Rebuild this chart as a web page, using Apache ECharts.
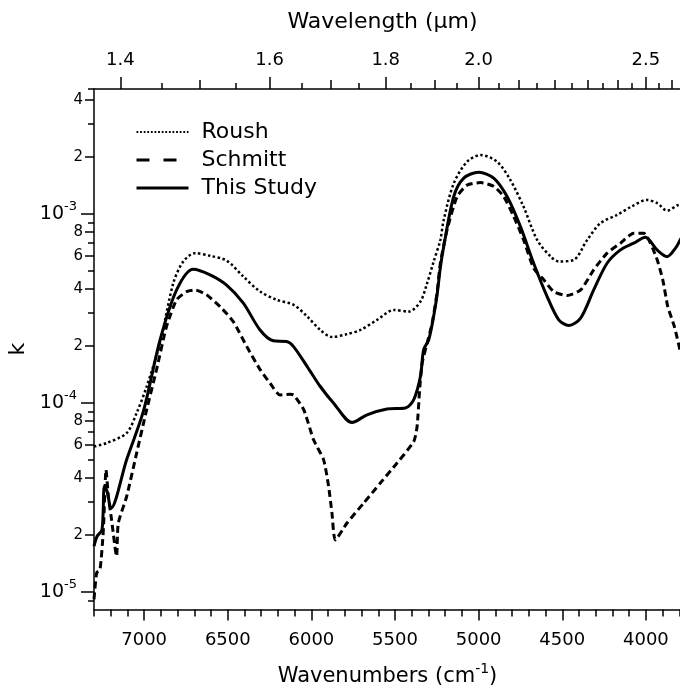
<!DOCTYPE html>
<html><head><meta charset="utf-8">
<script src="https://cdn.jsdelivr.net/npm/echarts@6/dist/echarts.min.js"></script>
<style>html,body{margin:0;padding:0;background:#fff}#c{width:680px;height:695px}</style>
</head><body><div id="c"></div>
<script>
// ---- data (wavenumber cm^-1, k) ----
const roushWn = [7300, 7225, 7105, 7045, 6985, 6905, 6826, 6766, 6696, 6606, 6507, 6407, 6307, 6208, 6106, 6026, 5947, 5877, 5787, 5707, 5607, 5508, 5418, 5348, 5308, 5269, 5229, 5209, 5149, 5069, 4989, 4890, 4810, 4731, 4650, 4569, 4521, 4431, 4351, 4272, 4172, 4089, 3993, 3933, 3873, 3813, 3791];
const roushK = [5.87e-5, 6.12e-5, 6.92e-5, 8.83e-5, 1.22e-4, 2.07e-4, 4.3e-4, 5.6e-4, 6.2e-4, 6.0e-4, 5.66e-4, 4.66e-4, 3.88e-4, 3.51e-4, 3.30e-4, 2.87e-4, 2.43e-4, 2.23e-4, 2.31e-4, 2.43e-4, 2.75e-4, 3.10e-4, 3.04e-4, 3.44e-4, 4.30e-4, 5.6e-4, 7.28e-4, 9.29e-4, 1.45e-3, 1.89e-3, 2.05e-3, 1.89e-3, 1.51e-3, 1.09e-3, 7.28e-4, 5.94e-4, 5.6e-4, 5.71e-4, 7.28e-4, 8.93e-4, 9.88e-4, 1.09e-3, 1.186e-3, 1.14e-3, 1.04e-3, 1.11e-3, 1.12e-3];

const schmittWn = [7300, 7284, 7264, 7244, 7228, 7214, 7195, 7165, 7155, 7105, 7045, 6985, 6926, 6866, 6806, 6746, 6696, 6627, 6546, 6467, 6387, 6307, 6247, 6188, 6128, 6106, 6046, 5987, 5927, 5897, 5877, 5857, 5787, 5688, 5588, 5488, 5388, 5368, 5353, 5338, 5308, 5278, 5249, 5229, 5189, 5129, 5069, 4989, 4910, 4850, 4790, 4731, 4671, 4611, 4551, 4471, 4390, 4312, 4232, 4152, 4073, 4013, 3939, 3899, 3869, 3830, 3791];
const schmittK = [9.1e-6, 1.26e-5, 1.31e-5, 2.13e-5, 4.42e-5, 3.19e-5, 2.41e-5, 1.54e-5, 2.3e-5, 3.19e-5, 5.42e-5, 9.2e-5, 1.50e-4, 2.54e-4, 3.51e-4, 3.88e-4, 3.96e-4, 3.73e-4, 3.23e-4, 2.69e-4, 1.99e-4, 1.50e-4, 1.27e-4, 1.10e-4, 1.11e-4, 1.10e-4, 9.2e-5, 6.37e-5, 4.99e-5, 3.6e-5, 2.6e-5, 1.88e-5, 2.31e-5, 2.94e-5, 3.76e-5, 4.8e-5, 6.24e-5, 7.5e-5, 1.17e-4, 1.62e-4, 2.07e-4, 2.64e-4, 3.8e-4, 5.48e-4, 8.23e-4, 1.236e-3, 1.42e-3, 1.465e-3, 1.40e-3, 1.236e-3, 9.68e-4, 7.28e-4, 5.16e-4, 4.48e-4, 3.88e-4, 3.70e-4, 3.96e-4, 5.06e-4, 6.2e-4, 7.0e-4, 7.9e-4, 7.9e-4, 5.94e-4, 4.48e-4, 3.23e-4, 2.54e-4, 1.82e-4];

const studyWn = [7300, 7282, 7252, 7238, 7222, 7198, 7105, 7005, 6905, 6806, 6706, 6606, 6507, 6407, 6307, 6228, 6148, 6108, 6026, 5947, 5867, 5757, 5667, 5548, 5438, 5388, 5348, 5329, 5299, 5269, 5249, 5229, 5209, 5149, 5089, 5000, 4910, 4830, 4750, 4671, 4591, 4521, 4461, 4390, 4312, 4232, 4152, 4073, 4003, 3933, 3873, 3823, 3791];
const studyK = [1.74e-5, 1.96e-5, 2.13e-5, 3.6e-5, 3.4e-5, 2.77e-5, 5.0e-5, 9.0e-5, 2.15e-4, 3.96e-4, 5.1e-4, 4.76e-4, 4.2e-4, 3.37e-4, 2.43e-4, 2.13e-4, 2.11e-4, 1.99e-4, 1.56e-4, 1.22e-4, 9.95e-5, 7.87e-5, 8.64e-5, 9.27e-5, 9.38e-5, 1.04e-4, 1.38e-4, 1.91e-4, 2.15e-4, 2.87e-4, 3.7e-4, 5.2e-4, 6.7e-4, 1.236e-3, 1.546e-3, 1.663e-3, 1.546e-3, 1.236e-3, 8.57e-4, 5.48e-4, 3.66e-4, 2.75e-4, 2.57e-4, 2.81e-4, 3.96e-4, 5.48e-4, 6.45e-4, 7.0e-4, 7.53e-4, 6.45e-4, 5.94e-4, 6.59e-4, 7.43e-4];

// ---- tick labels ----
const xMajorTicks = [7000, 6500, 6000, 5500, 5000, 4500, 4000];
const xMinorTicks = [7300, 7200, 7100, 7000, 6900, 6800, 6700, 6600, 6500, 6400, 6300, 6200, 6100, 6000, 5900, 5800, 5700, 5600, 5500, 5400, 5300, 5200, 5100, 5000, 4900, 4800, 4700, 4600, 4500, 4400, 4300, 4200, 4100, 4000, 3900, 3800];
const wlLabels = [1.4, 1.6, 1.8, 2.0, 2.5];
const wlMedium = [1.5, 1.7, 1.9, 2.1, 2.2, 2.3, 2.4, 2.6];
const wlShort = [1.45, 1.55, 1.65, 1.75, 1.85, 1.95, 2.05, 2.15, 2.25, 2.35, 2.45, 2.55];
const kDecades = [1e-5, 1e-4, 1e-3];
const kLabeled = [2e-5, 4e-5, 6e-5, 8e-5, 2e-4, 4e-4, 6e-4, 8e-4, 2e-3, 4e-3];
const kMinor = [9e-6, 3e-5, 5e-5, 7e-5, 9e-5, 3e-4, 5e-4, 7e-4, 9e-4, 3e-3];

const X_MIN = 3790, X_MAX = 7300;
const Y_MIN = 8.05e-6, Y_MAX = 4.585e-3;
const FONT = 'DejaVu Sans';

const zip = (a, b) => a.map((v, i) => [v, b[i]]);
const toWn = arr => arr.map(l => 10000 / l);

const chart = echarts.init(document.getElementById('c'), null, {renderer: 'canvas'});
const g = {left: 94, top: 89, width: 587, height: 520.5, containLabel: false, outerBoundsMode: 'none', show: false};
const AX = {color: '#000', width: 1.5};

function xAx(gridIndex, position, o) {
  return Object.assign({
    type: 'value', gridIndex, position, min: X_MIN, max: X_MAX, inverse: true,
    splitLine: {show: false}, axisLine: {show: false}, axisTick: {show: false}, axisLabel: {show: false}
  }, o);
}
function yAx(gridIndex, o) {
  return Object.assign({
    type: 'log', logBase: 10, gridIndex, position: 'left', min: Y_MIN, max: Y_MAX,
    splitLine: {show: false}, axisLine: {show: false}, axisTick: {show: false}, axisLabel: {show: false}
  }, o);
}

const hiddenSym = {opacity: 0, color: 'rgba(0,0,0,0)', borderWidth: 0};

const option = {
  animation: false,
  backgroundColor: '#fff',
  color: ['#000', '#000', '#000'],
  textStyle: {fontFamily: FONT, color: '#000'},
  grid: [Object.assign({}, g), Object.assign({}, g), Object.assign({}, g)],
  legend: {
    orient: 'vertical', left: 135, top: 121, padding: 0,
    itemWidth: 52, itemHeight: 16, itemGap: 6,
    itemStyle: hiddenSym,
    textStyle: {fontFamily: FONT, fontSize: 22, color: '#000', padding: [0, 0, 0, 8]},
    data: [
      {name: 'Roush', itemStyle: hiddenSym, lineStyle: {color: '#000', width: 2, type: [1.8, 1.8]}},
      {name: 'Schmitt', itemStyle: hiddenSym, lineStyle: {color: '#000', width: 3, type: [13, 14]}},
      {name: 'This Study', itemStyle: hiddenSym, lineStyle: {color: '#000', width: 3, type: 'solid'}}
    ]
  },
  xAxis: [
    xAx(0, 'bottom', {
      axisLine: {show: true, lineStyle: AX},
      axisTick: {show: true, length: 11, lineStyle: AX, customValues: xMajorTicks},
      axisLabel: {show: true, customValues: xMajorTicks, fontFamily: FONT, fontSize: 18, color: '#000', margin: 22,
        formatter: v => String(Math.round(v))},
      name: '{a|Wavenumbers (cm}{s|-1}{a|)}', nameLocation: 'middle', nameGap: 53,
      nameTextStyle: {rich: {
        a: {fontFamily: FONT, fontSize: 21, color: '#000'},
        s: {fontFamily: FONT, fontSize: 14, color: '#000', padding: [0, 0, 14, 0]}
      }}
    }),
    xAx(0, 'top', {
      axisLine: {show: true, lineStyle: AX},
      axisTick: {show: true, length: 12, lineStyle: AX, customValues: toWn(wlLabels)},
      axisLabel: {show: true, customValues: toWn(wlLabels), fontFamily: FONT, fontSize: 18, color: '#000', margin: 20,
        formatter: v => (10000 / v).toFixed(1)},
      name: 'Wavelength (μm)', nameLocation: 'middle', nameGap: 56,
      nameTextStyle: {fontFamily: FONT, fontSize: 22, color: '#000', padding: [0, 10, 0, 0]}
    }),
    xAx(1, 'bottom', {axisTick: {show: true, length: 7, lineStyle: AX, customValues: xMinorTicks}}),
    xAx(1, 'top', {axisTick: {show: true, length: 9, lineStyle: AX, customValues: toWn(wlMedium)}}),
    xAx(2, 'bottom', {show: false}),
    xAx(2, 'top', {axisTick: {show: true, length: 6, lineStyle: AX, customValues: toWn(wlShort)}})
  ],
  yAxis: [
    yAx(0, {
      axisLine: {show: true, lineStyle: AX},
      axisTick: {show: true, length: 13, lineStyle: AX, customValues: kDecades},
      axisLabel: {show: true, customValues: kDecades, margin: 17,
        formatter: v => '{b|10}{s|' + Math.round(Math.log10(v)) + '}',
        rich: {
          b: {fontFamily: FONT, fontSize: 19, color: '#000'},
          s: {fontFamily: FONT, fontSize: 13, color: '#000', padding: [0, 0, 14, 0]}
        }},
      name: 'k', nameLocation: 'middle', nameGap: 62, nameRotate: 90,
      nameTextStyle: {fontFamily: FONT, fontSize: 22, color: '#000'}
    }),
    yAx(1, {
      axisTick: {show: true, length: 9, lineStyle: AX, customValues: kLabeled},
      axisLabel: {show: true, customValues: kLabeled, margin: 11, fontFamily: FONT, fontSize: 15, color: '#000',
        formatter: v => String(Math.round(v / Math.pow(10, Math.floor(Math.log10(v) + 1e-9))))}
    }),
    yAx(2, {
      axisTick: {show: true, length: 6, lineStyle: AX, customValues: kMinor.concat([Y_MAX])}
    })
  ],
  series: [
    {type: 'line', name: 'Roush', xAxisIndex: 0, yAxisIndex: 0, data: zip(roushWn, roushK),
      symbol: 'none', showSymbol: false, smooth: 0.3, z: 2, itemStyle: {color: '#000'},
      lineStyle: {color: '#000', width: 2.5, type: [2.5, 2.5]}},
    {type: 'line', name: 'Schmitt', xAxisIndex: 0, yAxisIndex: 0, data: zip(schmittWn, schmittK),
      symbol: 'none', showSymbol: false, smooth: 0.2, z: 3, itemStyle: {color: '#000'},
      lineStyle: {color: '#000', width: 3, type: [7, 4]}},
    {type: 'line', name: 'This Study', xAxisIndex: 0, yAxisIndex: 0, data: zip(studyWn, studyK),
      symbol: 'none', showSymbol: false, smooth: 0.3, z: 4, itemStyle: {color: '#000'},
      lineStyle: {color: '#000', width: 3, type: 'solid'}}
  ]
};
chart.setOption(option);
</script>
</body></html>
